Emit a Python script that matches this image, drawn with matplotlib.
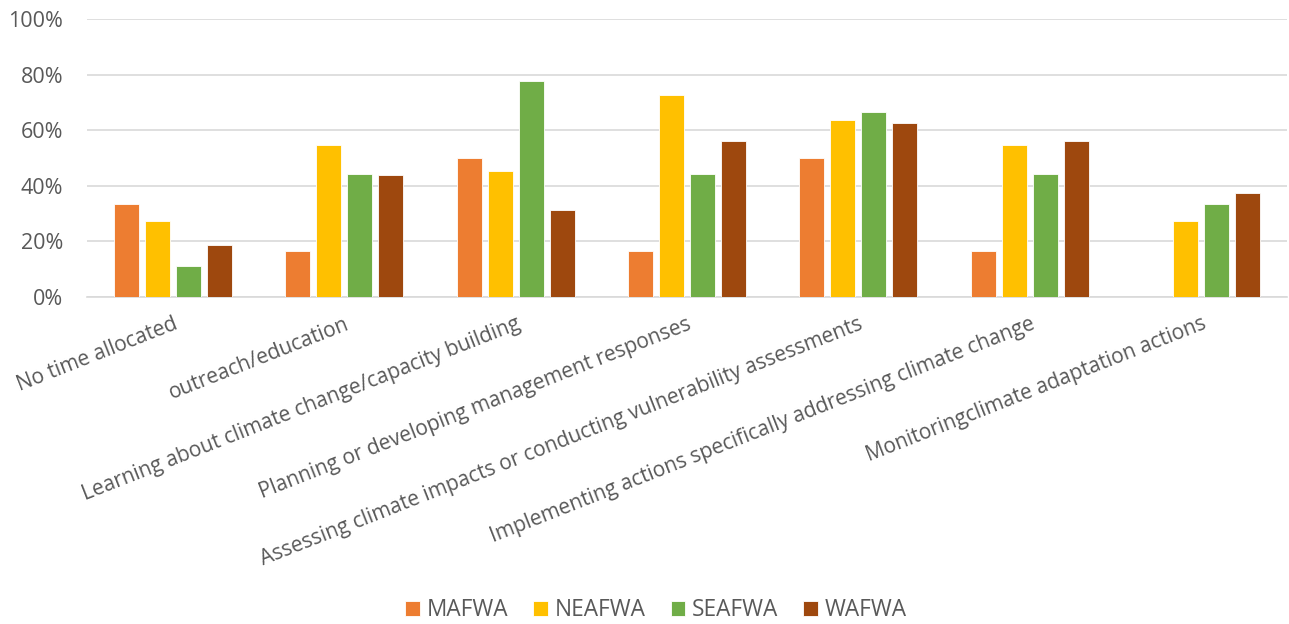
import numpy as np
import matplotlib.pyplot as plt
from matplotlib.ticker import PercentFormatter

categories = ['No time allocated', 'outreach/education',
              'Learning about climate change/capacity building',
              'Planning or developing management responses',
              'Assessing climate impacts or conducting vulnerability assessments',
              'Implementing actions specifically addressing climate change',
              'Monitoringclimate adaptation actions']
mafwa = [33.3, 16.7, 50.0, 16.7, 50.0, 16.7, 0.0]
neafwa = [27.3, 54.5, 45.5, 72.7, 63.6, 54.5, 27.3]
seafwa = [11.1, 44.4, 77.8, 44.4, 66.7, 44.4, 33.3]
wafwa = [18.75, 43.75, 31.25, 56.25, 62.5, 56.25, 37.5]
series = ['MAFWA', 'NEAFWA', 'SEAFWA', 'WAFWA']
colors = ['#ED7D31', '#FFC000', '#70AD47', '#9E480E']

plt.rcParams['font.family'] = ['Open Sans', 'DejaVu Sans']
text_col = '#595959'

fig = plt.figure(figsize=(12.89, 6.24), dpi=100)
ax = fig.add_axes([87 / 1289, 1 - 297 / 624, 1200 / 1289, 278 / 624])

x = np.arange(len(categories))
step = 31 / (1200 / 7)
width = 25 / (1200 / 7)
for i, (name, vals) in enumerate(zip(series, [mafwa, neafwa, seafwa, wafwa])):
    ax.bar(x + (i - 1.5) * step, vals, width, color=colors[i], label=name,
           edgecolor='white', linewidth=0.6, zorder=3)

ax.set_xlim(-0.5, len(categories) - 0.5)
ax.set_ylim(0, 100)
ax.set_yticks(range(0, 101, 20))
ax.yaxis.set_major_formatter(PercentFormatter(decimals=0))
ax.grid(axis='y', color='#D9D9D9', linewidth=1.2, zorder=0)
for s in ['top', 'right', 'left']:
    ax.spines[s].set_visible(False)
ax.spines['bottom'].set_color('#D9D9D9')
ax.spines['bottom'].set_linewidth(1.2)
ax.tick_params(axis='both', length=0, labelsize=15.5, colors=text_col)
ax.tick_params(axis='x', labelsize=15)
ax.tick_params(axis='y', pad=17)
ax.set_xticks(x)
ax.set_xticklabels(categories, rotation=21.5, ha='right', rotation_mode='anchor')
ax.tick_params(axis='x', pad=12)

fig.legend(loc='lower center', ncol=4, frameon=False, fontsize=16.3,
           labelcolor=text_col, handlelength=0.65, handleheight=0.65,
           handletextpad=0.3, columnspacing=1.1, bbox_to_anchor=(0.509, -0.03))

fig.savefig('out.png', dpi=100)
